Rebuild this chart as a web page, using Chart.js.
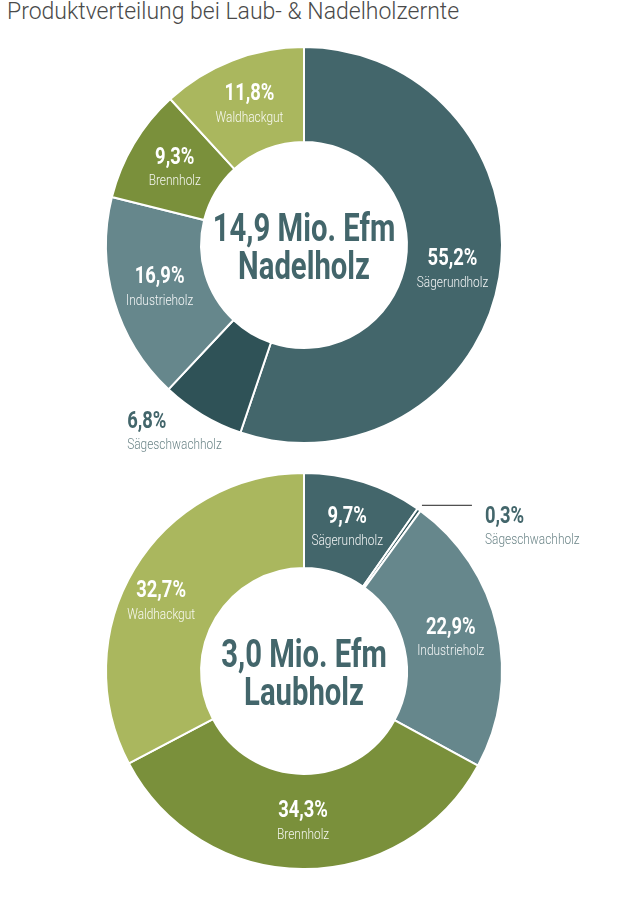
<!DOCTYPE html>
<html>
<head>
<meta charset="utf-8">
<script src="https://cdn.jsdelivr.net/npm/chart.js@4"></script>
<style>
  body { margin: 0; background: #fff; width: 622px; height: 905px; position: relative; overflow: hidden; }
  h1 { position: absolute; left: 7px; top: -1px; margin: 0; font: 300 23px Roboto, sans-serif; color: #4a4a4a; line-height: 26px; }
  .box { position: absolute; left: 0; width: 622px; }
</style>
</head>
<body>
<h1>Produktverteilung bei Laub- &amp; Nadelholzernte</h1>
<div class="box" style="top:30px;height:440px"><canvas id="nadelChart" width="622" height="440"></canvas></div>
<div class="box" style="top:460px;height:445px"><canvas id="laubChart" width="622" height="445"></canvas></div>
<script>
const labels = ['Sägerundholz', 'Sägeschwachholz', 'Industrieholz', 'Brennholz', 'Waldhackgut'];
const nadelValues = [55.2, 6.8, 16.9, 9.3, 11.8];
const laubValues = [9.7, 0.3, 22.9, 34.3, 32.7];
const nadelTitle = ['14,9 Mio. Efm', 'Nadelholz'];
const laubTitle = ['3,0 Mio. Efm', 'Laubholz'];
const colors = ['#43666b', '#2f5257', '#66878c', '#7a903b', '#aab75e'];

const drawText = (ctx, text, x, y, font, color, sx, align) => {
    ctx.save();
    ctx.translate(x, y);
    ctx.scale(sx, 1);
    ctx.font = font;
    ctx.fillStyle = color;
    ctx.textAlign = align;
    ctx.textBaseline = 'middle';
    ctx.fillText(text, 0, 0);
    ctx.restore();
}

const fmt = (v) => v.toFixed(1).replace('.', ',') + '%';

const sliceLabels = {
    id: 'sliceLabels',
    afterDraw(chart, args, opts) {
        const ctx = chart.ctx;
        const meta = chart.getDatasetMeta(0);
        const values = chart.data.datasets[0].data;
        meta.data.forEach((arc, i) => {
            const pct = fmt(values[i]);
            const name = chart.data.labels[i];
            if (i === opts.outsideIndex) {
                const p = arc.getProps(['x', 'y', 'startAngle', 'endAngle', 'outerRadius'], true);
                const mid = (p.startAngle + p.endAngle) / 2;
                const ex = p.x + Math.cos(mid) * p.outerRadius;
                const ey = p.y + Math.sin(mid) * p.outerRadius;
                if (opts.leader) {
                    ctx.save();
                    ctx.strokeStyle = '#222';
                    ctx.lineWidth = 1;
                    ctx.beginPath();
                    ctx.moveTo(ex + 3, ey - 4.5);
                    ctx.lineTo(ex + 53, ey - 4.5);
                    ctx.stroke();
                    ctx.restore();
                }
                const tx = ex + opts.dx;
                drawText(ctx, pct, tx, ey + 7, 'bold 23px Roboto', '#43666b', 0.8, 'left');
                drawText(ctx, name, tx, ey + 31, '300 14px Roboto', '#6d8689', 0.85, 'left');
            } else {
                const pos = arc.tooltipPosition(true);
                const off = (opts.shift && opts.shift[i]) || [0, 0];
                drawText(ctx, pct, pos.x + off[0], pos.y + off[1] - 10, 'bold 23px Roboto', '#ffffff', 0.8, 'center');
                drawText(ctx, name, pos.x + off[0], pos.y + off[1] + 14, '300 14px Roboto', 'rgba(255,255,255,0.92)', 0.85, 'center');
            }
        });
        const c = meta.data[0];
        drawText(ctx, opts.title[0], c.x, c.y - 14, 'bold 39px Roboto', '#43666b', 0.75, 'center');
        drawText(ctx, opts.title[1], c.x, c.y + 24, 'bold 39px Roboto', '#43666b', 0.75, 'center');
    }
};

const drawDonut = (canvasId, values, title, padding, outsideIndex, dx, leader, shift) => {
    const ctx = document.getElementById(canvasId).getContext('2d');
    return new Chart(ctx, {
        type: 'doughnut',
        data: {
            labels: labels,
            datasets: [{
                data: values,
                backgroundColor: colors,
                borderColor: '#ffffff',
                borderWidth: 2
            }]
        },
        options: {
            responsive: false,
            animation: false,
            devicePixelRatio: 1,
            cutout: '52%',
            layout: { padding: padding },
            plugins: {
                legend: { display: false },
                tooltip: { enabled: false },
                sliceLabels: { title: title, outsideIndex: outsideIndex, dx: dx, leader: leader, shift: shift }
            }
        },
        plugins: [sliceLabels]
    });
}

drawDonut('nadelChart', nadelValues, nadelTitle, { left: 105, right: 119, top: 16, bottom: 26 }, 1, -75, false, null);
drawDonut('laubChart', laubValues, laubTitle, { left: 105, right: 119, top: 12, bottom: 35 }, 1, 66, true,
    { 0: [-2, 0], 4: [-14, 8] });
</script>
</body>
</html>
